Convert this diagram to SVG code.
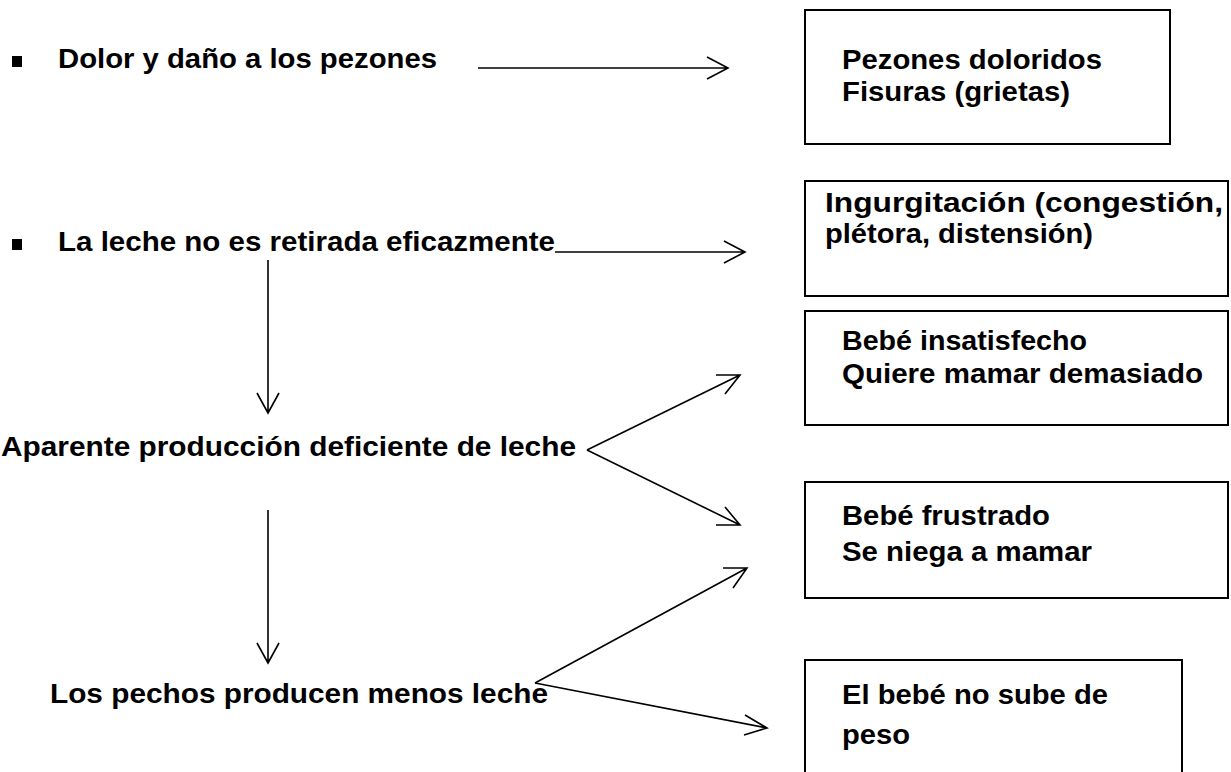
<svg xmlns="http://www.w3.org/2000/svg" width="1231" height="772" viewBox="0 0 1231 772">
<style>
text{font-family:"Liberation Sans",Arial,sans-serif;font-weight:bold;font-size:28px;fill:#000}
.box{fill:#fff;stroke:#000;stroke-width:2}
.ln{fill:none;stroke:#000;stroke-width:1.6}
</style>
<rect width="1231" height="772" fill="#fff"/>
<g id="n-dolor">
<rect x="12" y="56" width="10" height="11" fill="#000"/>
<text x="58" y="68" textLength="379" lengthAdjust="spacingAndGlyphs">Dolor y daño a los pezones</text>
</g>
<g id="n-leche">
<rect x="12" y="239" width="10" height="11" fill="#000"/>
<text x="58" y="251" textLength="497" lengthAdjust="spacingAndGlyphs">La leche no es retirada eficazmente</text>
</g>
<g id="n-aparente">
<text x="1" y="456" textLength="575" lengthAdjust="spacingAndGlyphs">Aparente producción deficiente de leche</text>
</g>
<g id="n-pechos">
<text x="50" y="703" textLength="498" lengthAdjust="spacingAndGlyphs">Los pechos producen menos leche</text>
</g>
<g id="n-pezones">
<rect class="box" x="805" y="10" width="365" height="134"/>
<text x="842" y="69" textLength="260" lengthAdjust="spacingAndGlyphs">Pezones doloridos</text>
<text x="842" y="101" textLength="228" lengthAdjust="spacingAndGlyphs">Fisuras (grietas)</text>
</g>
<g id="n-ingurg">
<rect class="box" x="805" y="181" width="423" height="115"/>
<text x="825" y="212" textLength="398" lengthAdjust="spacingAndGlyphs">Ingurgitación (congestión,</text>
<text x="825" y="243" textLength="268" lengthAdjust="spacingAndGlyphs">plétora, distensión)</text>
</g>
<g id="n-insat">
<rect class="box" x="805" y="311" width="423" height="114"/>
<text x="842" y="350" textLength="245" lengthAdjust="spacingAndGlyphs">Bebé insatisfecho</text>
<text x="842" y="383" textLength="361" lengthAdjust="spacingAndGlyphs">Quiere mamar demasiado</text>
</g>
<g id="n-frust">
<rect class="box" x="805" y="482" width="423" height="116"/>
<text x="842" y="525" textLength="208" lengthAdjust="spacingAndGlyphs">Bebé frustrado</text>
<text x="842" y="561" textLength="250" lengthAdjust="spacingAndGlyphs">Se niega a mamar</text>
</g>
<g id="n-peso">
<rect class="box" x="805" y="660" width="377" height="140"/>
<text x="842" y="704" textLength="266" lengthAdjust="spacingAndGlyphs">El bebé no sube de</text>
<text x="842" y="744" textLength="68" lengthAdjust="spacingAndGlyphs">peso</text>
</g>
<g id="connectors" class="ln">
<path d="M478 68H728M707 57L728 68L707 79"/>
<path d="M555 252H745M724 241L745 252L724 263"/>
<path d="M268 260V413M257 393L268 413L279 393"/>
<path d="M268 510V663M257 643L268 663L279 643"/>
<path d="M587 450L740 375M716 375L740 375L725 394"/>
<path d="M587 450L740 525M716 525L740 525L725 507"/>
<path d="M535 683L747 568M723 568L747 568L733 588"/>
<path d="M535 683L767 728M745 715L767 728L744 735"/>
</g>
</svg>
